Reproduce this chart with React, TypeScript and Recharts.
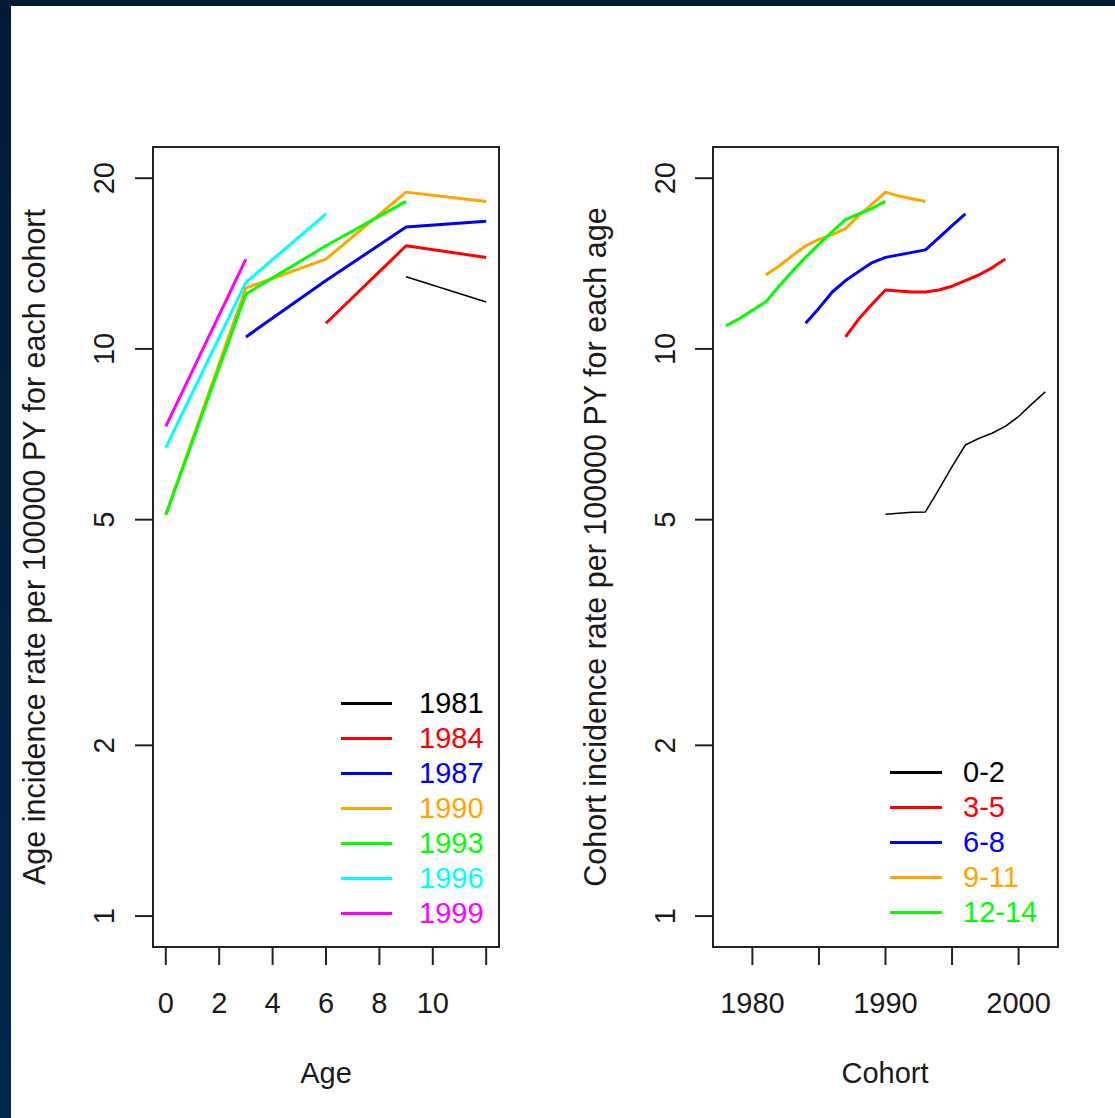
import { LineChart, Line, XAxis, YAxis, ReferenceArea, Legend } from "recharts";

// incidence per 100000 PY, log scale on both panels
const Y_MIN = 0.882;
const Y_MAX = 22.7;
const rateTicks = [1, 2, 5, 10, 20];

// left panel: age curve for each birth cohort
const ages = [0, 3, 6, 9, 12];
const ageTicks = [0, 2, 4, 6, 8, 10, 12];
const c1981 = [null, null, null, 13.4, 12.1];
const c1984 = [null, null, 11.1, 15.2, 14.5];
const c1987 = [null, 10.5, 13.2, 16.4, 16.8];
const c1990 = [5.1, 12.8, 14.4, 18.9, 18.2];
const c1993 = [5.1, 12.5, 15.2, 18.2, null];
const c1996 = [6.7, 13.1, 17.3, null, null];
const c1999 = [7.3, 14.4, null, null, null];

// right panel: cohort curve for each age group
const cohorts = [
  1978, 1979, 1980, 1981, 1982, 1983, 1984, 1985, 1986, 1987, 1988, 1989, 1990,
  1991, 1992, 1993, 1994, 1995, 1996, 1997, 1998, 1999, 2000, 2001, 2002,
];
const cohortTicks = [1980, 1985, 1990, 1995, 2000];
const g0_2 = [
  null, null, null, null, null, null, null, null, null, null, null, null, 5.11,
  5.13, 5.15, 5.16, 5.65, 6.2, 6.77, 6.95, 7.1, 7.3, 7.6, 8.0, 8.4,
];
const g3_5 = [
  null, null, null, null, null, null, null, null, null, 10.5, 11.3, 12.0, 12.7,
  12.65, 12.6, 12.6, 12.7, 12.9, 13.2, 13.5, 13.9, 14.4, null, null, null,
];
const g6_8 = [
  null, null, null, null, null, null, 11.1, 11.8, 12.6, 13.2, 13.7, 14.2, 14.5,
  14.65, 14.8, 14.95, 15.7, 16.5, 17.3, null, null, null, null, null, null,
];
const g9_11 = [
  null, null, null, 13.5, 14.0, 14.6, 15.2, 15.6, 15.9, 16.3, 17.2, 18.0, 18.9,
  18.6, 18.4, 18.2, null, null, null, null, null, null, null, null, null,
];
const g12_14 = [
  10.98, 11.3, 11.7, 12.1, 12.9, 13.7, 14.5, 15.3, 16.1, 16.9, 17.3, 17.7, 18.2,
  null, null, null, null, null, null, null, null, null, null, null, null,
];

const cohortSeries = [
  { key: "c1981", name: "1981", color: "#000000", values: c1981 },
  { key: "c1984", name: "1984", color: "#ff0000", values: c1984 },
  { key: "c1987", name: "1987", color: "#0000ff", values: c1987 },
  { key: "c1990", name: "1990", color: "#ffa500", values: c1990 },
  { key: "c1993", name: "1993", color: "#00ff00", values: c1993 },
  { key: "c1996", name: "1996", color: "#00ffff", values: c1996 },
  { key: "c1999", name: "1999", color: "#ff00ff", values: c1999 },
];

const ageSeries = [
  { key: "g0_2", name: "0-2", color: "#000000", values: g0_2 },
  { key: "g3_5", name: "3-5", color: "#ff0000", values: g3_5 },
  { key: "g6_8", name: "6-8", color: "#0000ff", values: g6_8 },
  { key: "g9_11", name: "9-11", color: "#ffa500", values: g9_11 },
  { key: "g12_14", name: "12-14", color: "#00ff00", values: g12_14 },
];

const ageRows = ages.map((age, i) => {
  const row: Record<string, number | null> = { age };
  cohortSeries.forEach((s) => (row[s.key] = s.values[i]));
  return row;
});

const cohortRows = cohorts.map((cohort, i) => {
  const row: Record<string, number | null> = { cohort };
  ageSeries.forEach((s) => (row[s.key] = s.values[i]));
  return row;
});

const FONT = "'Liberation Sans', Arial, sans-serif";
const INK = "#1a1a1a";
const FS = 29;
const PANEL_W = 557;
const H = 1118;
const PLOT_TOP = 147;
const PLOT_BOTTOM = 947;
const PLOT_MID = (PLOT_TOP + PLOT_BOTTOM) / 2;

const RateTick = ({ y, payload, labelX }: any) => (
  <text
    x={labelX}
    y={y}
    transform={`rotate(-90 ${labelX} ${y})`}
    textAnchor="middle"
    fontSize={FS}
    fontFamily={FONT}
    fill={INK}
  >
    {payload.value}
  </text>
);

const BottomTick = ({ x, payload, shown }: any) => (
  <text x={x} y={1013} textAnchor="middle" fontSize={FS} fontFamily={FONT} fill={INK}>
    {shown.includes(payload.value) ? payload.value : ""}
  </text>
);

const SideTitle = (x: number, text: string) => () => (
  <text
    x={x}
    y={PLOT_MID}
    transform={`rotate(-90 ${x} ${PLOT_MID})`}
    textAnchor="middle"
    fontSize={30.5}
    fontFamily={FONT}
    fill={INK}
  >
    {text}
  </text>
);

const BottomTitle = (x: number, text: string) => () => (
  <text x={x} y={1083} textAnchor="middle" fontSize={FS} fontFamily={FONT} fill={INK}>
    {text}
  </text>
);

const legendBox =
  (items: { name: string; color: string }[], textGap: number, lineW: number) => () => (
    <div style={{ fontFamily: FONT, fontSize: FS }}>
      {items.map((it) => (
        <div key={it.name} style={{ display: "flex", alignItems: "center", height: 35 }}>
          <div style={{ width: lineW, height: 3, background: it.color, flex: "none" }} />
          <span style={{ marginLeft: textGap, color: it.color, lineHeight: "35px" }}>{it.name}</span>
        </div>
      ))}
    </div>
  );

const tickLineStyle = { stroke: "#222", strokeWidth: 2 };

const AgePanel = () => {
  const xMin = -0.48;
  const xMax = 12.48;
  return (
    <LineChart
      width={PANEL_W}
      height={H}
      data={ageRows}
      margin={{ top: PLOT_TOP, right: 58, bottom: H - PLOT_BOTTOM - 60, left: 93 }}
    >
      <XAxis
        type="number"
        dataKey="age"
        domain={[xMin, xMax]}
        allowDataOverflow
        ticks={ageTicks}
        interval={0}
        height={60}
        tickSize={18}
        axisLine={false}
        tickLine={tickLineStyle}
        tick={<BottomTick shown={[0, 2, 4, 6, 8, 10]} />}
        label={BottomTitle(326, "Age")}
      />
      <YAxis
        type="number"
        scale="log"
        domain={[Y_MIN, Y_MAX]}
        allowDataOverflow
        ticks={rateTicks}
        interval={0}
        width={60}
        tickSize={18}
        axisLine={false}
        tickLine={tickLineStyle}
        tick={<RateTick labelX={114} />}
        label={SideTitle(45, "Age incidence rate per 100000 PY for each cohort")}
      />
      <ReferenceArea
        x1={xMin}
        x2={xMax}
        y1={Y_MIN}
        y2={Y_MAX}
        fill="none"
        fillOpacity={0}
        stroke="#222"
        strokeWidth={2}
      />
      {cohortSeries.map((s) => (
        <Line
          key={s.key}
          dataKey={s.key}
          name={s.name}
          stroke={s.color}
          strokeWidth={s.key === "c1981" ? 1.5 : 3}
          dot={false}
          activeDot={false}
          strokeLinejoin="round"
          isAnimationActive={false}
        />
      ))}
      <Legend
        layout="vertical"
        align="center"
        verticalAlign="middle"
        wrapperStyle={{ left: 341, top: 686, width: 170, height: 245 }}
        content={legendBox(cohortSeries, 27, 51)}
      />
    </LineChart>
  );
};

const CohortPanel = () => {
  const xMin = 1977.04;
  const xMax = 2002.96;
  return (
    <LineChart
      width={H - PANEL_W - 3}
      height={H}
      data={cohortRows}
      margin={{ top: PLOT_TOP, right: 57, bottom: H - PLOT_BOTTOM - 60, left: 96 }}
    >
      <XAxis
        type="number"
        dataKey="cohort"
        domain={[xMin, xMax]}
        allowDataOverflow
        ticks={cohortTicks}
        interval={0}
        height={60}
        tickSize={18}
        axisLine={false}
        tickLine={tickLineStyle}
        tick={<BottomTick shown={[1980, 1990, 2000]} />}
        label={BottomTitle(328, "Cohort")}
      />
      <YAxis
        type="number"
        scale="log"
        domain={[Y_MIN, Y_MAX]}
        allowDataOverflow
        ticks={rateTicks}
        interval={0}
        width={60}
        tickSize={18}
        axisLine={false}
        tickLine={tickLineStyle}
        tick={<RateTick labelX={118} />}
        label={SideTitle(49, "Cohort incidence rate per 100000 PY for each age")}
      />
      <ReferenceArea
        x1={xMin}
        x2={xMax}
        y1={Y_MIN}
        y2={Y_MAX}
        fill="none"
        fillOpacity={0}
        stroke="#222"
        strokeWidth={2}
      />
      {ageSeries.map((s) => (
        <Line
          key={s.key}
          dataKey={s.key}
          name={s.name}
          stroke={s.color}
          strokeWidth={s.key === "g0_2" ? 1.5 : 3}
          dot={false}
          activeDot={false}
          strokeLinejoin="round"
          isAnimationActive={false}
        />
      ))}
      <Legend
        layout="vertical"
        align="center"
        verticalAlign="middle"
        wrapperStyle={{ left: 333, top: 755, width: 180, height: 175 }}
        content={legendBox(ageSeries, 21, 52)}
      />
    </LineChart>
  );
};

export default function App() {
  return (
    <div
      style={{
        position: "absolute",
        left: 0,
        top: 0,
        width: 1115,
        height: H,
        overflow: "hidden",
        background: "linear-gradient(#001a35, #00284d)",
      }}
    >
      <div
        style={{
          position: "absolute",
          left: 11,
          top: 6,
          width: 1104,
          height: H - 6,
          background: "#ffffff",
        }}
      />
      <div style={{ position: "absolute", left: 0, top: 0 }}>
        <AgePanel />
      </div>
      <div style={{ position: "absolute", left: PANEL_W, top: 0 }}>
        <CohortPanel />
      </div>
    </div>
  );
}
